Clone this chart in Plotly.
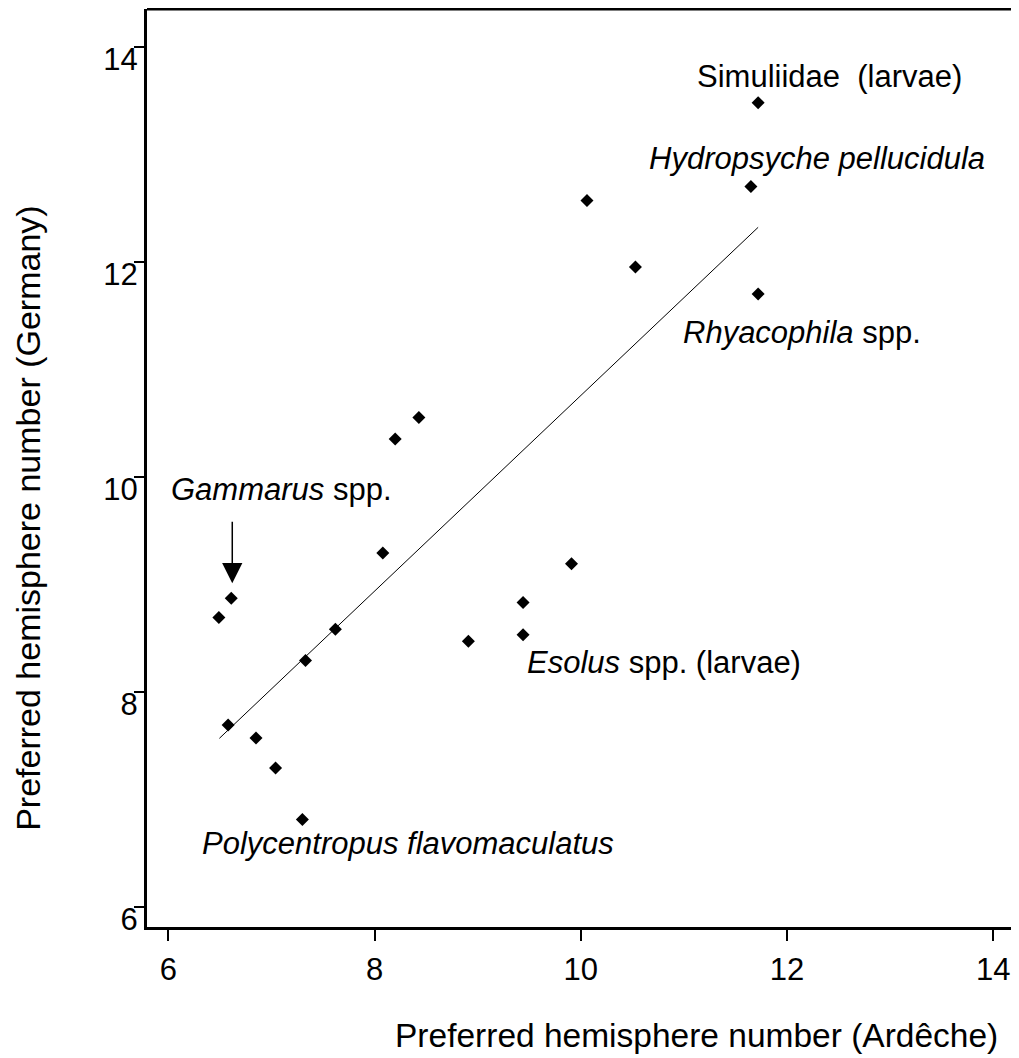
import plotly.graph_objects as go

# Preferred hemisphere numbers per taxon
ardeche = [11.72, 11.65, 10.06, 10.53, 11.72, 8.43, 8.20, 8.08, 9.91, 9.44,
           9.44, 8.91, 6.61, 6.49, 7.62, 7.33, 6.58, 6.85, 7.04, 7.30]
germany = [13.48, 12.70, 12.57, 11.95, 11.70, 10.55, 10.35, 9.29, 9.19, 8.83,
           8.53, 8.47, 8.87, 8.69, 8.58, 8.29, 7.69, 7.57, 7.29, 6.81]

# regression line end points
fit_x = [6.495, 11.72]
fit_y = [7.566, 12.32]

x_ticks = [6, 8, 10, 12, 14]
y_ticks = [6, 8, 10, 12, 14]

FONT = "Liberation Sans, Arial, sans-serif"

fig = go.Figure()
fig.add_trace(go.Scatter(
    x=fit_x, y=fit_y, mode="lines",
    line=dict(color="black", width=1),
    hoverinfo="skip",
))
fig.add_trace(go.Scatter(
    x=ardeche, y=germany, mode="markers",
    marker=dict(symbol="diamond", size=10, color="black"),
))

labels = [
    (11.11, 13.72, "Simuliidae  (larvae)"),
    (10.64, 12.96, "<i>Hydropsyche pellucidula</i>"),
    (10.97, 11.34, "<i>Rhyacophila</i> spp."),
    (6.01, 9.88, "<i>Gammarus</i> spp."),
    (9.46, 8.27, "<i>Esolus</i> spp. (larvae)"),
    (6.31, 6.59, "<i>Polycentropus flavomaculatus</i>"),
]
for lx, ly, txt in labels:
    fig.add_annotation(x=lx, y=ly, text=txt, showarrow=False,
                       xanchor="left", yanchor="middle",
                       font=dict(family=FONT, size=31, color="black"))

# arrow to Gammarus point
fig.add_annotation(x=6.62, y=9.01, ax=0, ay=-63, text="",
                   showarrow=True, arrowhead=2, arrowsize=2.7,
                   arrowwidth=1.5, arrowcolor="black")

# axis titles
fig.add_annotation(xref="paper", yref="paper", x=0.630, y=-0.118,
                   text="Preferred hemisphere number (Ardêche)",
                   showarrow=False, xanchor="center", yanchor="middle",
                   font=dict(family=FONT, size=33.5, color="black"))
fig.add_annotation(xref="paper", yref="paper", x=-0.1365, y=0.4457,
                   text="Preferred hemisphere number (Germany)",
                   textangle=-90, showarrow=False,
                   xanchor="center", yanchor="middle",
                   font=dict(family=FONT, size=34, color="black"))

# top frame line
fig.add_shape(type="line", xref="paper", yref="paper", x0=0, x1=1, y0=1, y1=1,
              line=dict(color="black", width=3))

# page body keeps an 8px margin, so the figure is sized to fit after it
fig.update_layout(
    width=1011, height=1050,
    margin=dict(l=139, r=0, t=1, b=131),
    plot_bgcolor="white", paper_bgcolor="white",
    showlegend=False,
    font=dict(family=FONT, size=31, color="black"),
)
fig.update_xaxes(
    range=[5.793, 14.25], tickvals=x_ticks,
    showgrid=False, zeroline=False,
    showline=True, linecolor="black", linewidth=3,
    ticks="outside", ticklen=11, tickwidth=2, tickcolor="black",
    tickfont=dict(family=FONT, size=31, color="black"),
    ticklabelstandoff=2,
)
fig.update_yaxes(
    range=[5.811, 14.351], tickvals=y_ticks,
    showgrid=False, zeroline=False,
    showline=True, linecolor="black", linewidth=3,
    ticks="outside", ticklen=10, tickwidth=2, tickcolor="black",
    tickfont=dict(family=FONT, size=31, color="black"),
    ticklabelposition="outside bottom",
    ticklabelshift=-10,
)

fig.write_html("out.html")
